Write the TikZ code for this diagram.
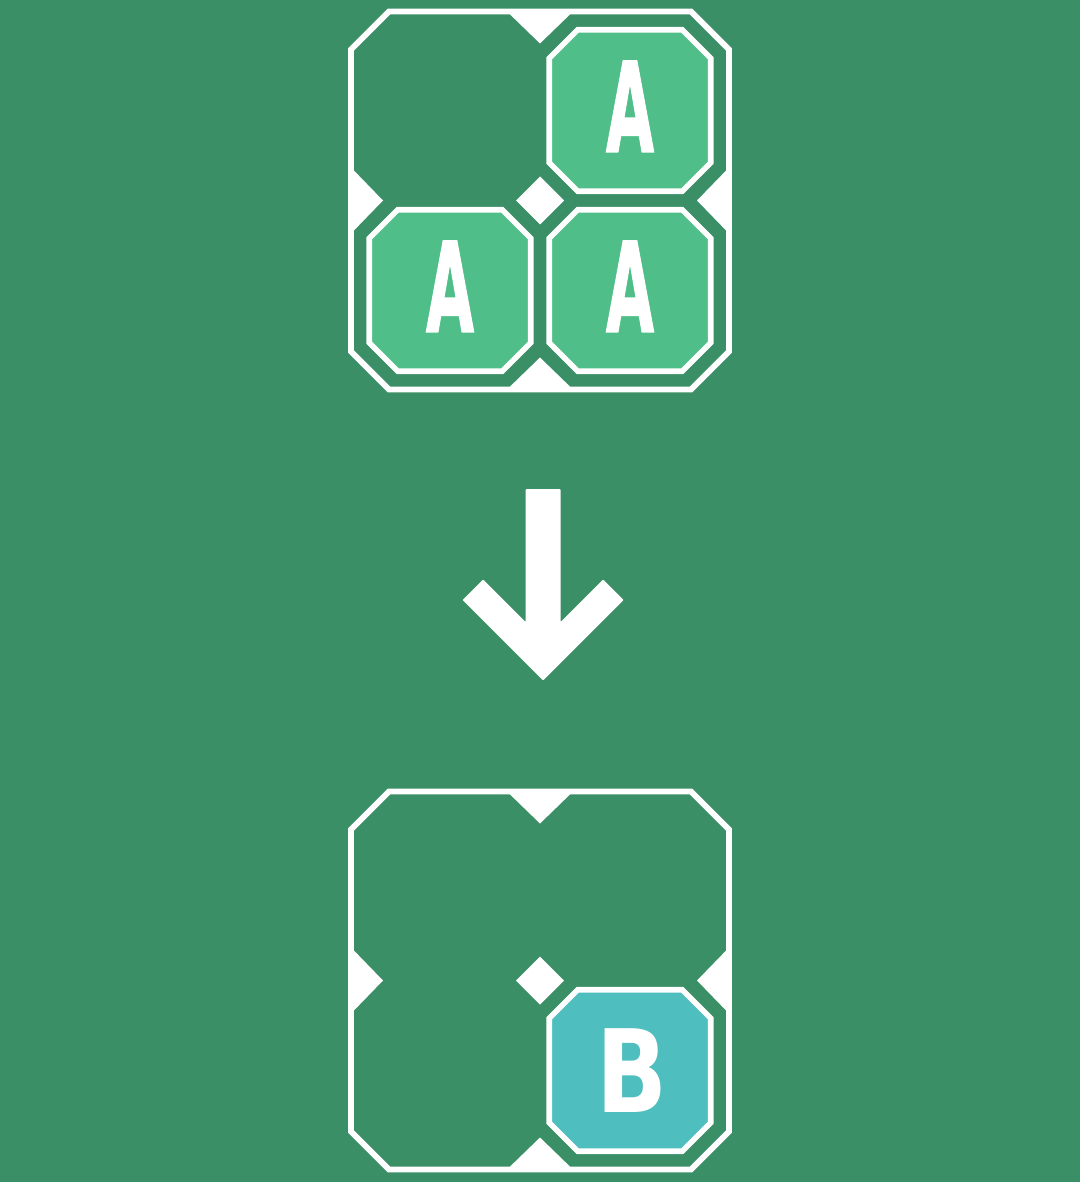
\documentclass[tikz,border=0pt]{standalone}
\usepackage{fontspec}
\usepackage{graphicx}
\newfontfamily\tilefont[FakeBold=1.6]{DejaVu Sans Bold}
\newfontfamily\tilefontb{DejaVu Sans Bold}
\definecolor{bgc}{HTML}{3A8F66}
\definecolor{tilea}{HTML}{4FBE88}
\definecolor{tileb}{HTML}{4FBEBE}
\newcommand{\myboard}[2]{%
  \draw[frameline] (#1-189,#2-151) -- (#1-151,#2-189) -- (#1+151,#2-189) -- (#1+189,#2-151)
    -- (#1+189,#2+151) -- (#1+151,#2+189) -- (#1-151,#2+189) -- (#1-189,#2+151) -- cycle;
  \fill[notch] (#1-33,#2-189) -- (#1+33,#2-189) -- (#1,#2-157) -- cycle;
  \fill[notch] (#1-33,#2+189) -- (#1+33,#2+189) -- (#1,#2+157) -- cycle;
  \fill[notch] (#1-189,#2-33) -- (#1-189,#2+33) -- (#1-157,#2) -- cycle;
  \fill[notch] (#1+189,#2-33) -- (#1+189,#2+33) -- (#1+157,#2) -- cycle;
  \fill[notch] (#1,#2-24) -- (#1+24,#2) -- (#1,#2+24) -- (#1-24,#2) -- cycle;
}
\newcommand{\mytile}[3]{%
  \filldraw[tileline,fill=#3] (#1-80.75,#2-52.25) -- (#1-52.25,#2-80.75) -- (#1+52.25,#2-80.75)
    -- (#1+80.75,#2-52.25) -- (#1+80.75,#2+52.25) -- (#1+52.25,#2+80.75) -- (#1-52.25,#2+80.75)
    -- (#1-80.75,#2+52.25) -- cycle;
}
\begin{document}
\begin{tikzpicture}[x=1pt,y=-1pt,
  frameline/.style={draw=white,line width=5.7pt,line join=miter},
  tileline/.style={draw=white,line width=5.6pt,line join=miter},
  notch/.style={fill=white},
  arrowshape/.style={fill=white},
  letter/.style={text=white,inner sep=0pt,outer sep=0pt,font=\tilefont\fontsize{124}{124}\selectfont},
  letterb/.style={text=white,inner sep=0pt,outer sep=0pt,font=\tilefontb\fontsize{115}{115}\selectfont}]
\fill[bgc] (0,0) rectangle (1080,1182);
\useasboundingbox (0,0) rectangle (1080,1182);
% top board
\myboard{540}{200.5}
\mytile{630}{110.5}{tilea}
\mytile{450}{290.5}{tilea}
\mytile{630}{290.5}{tilea}
\node[letter] (a1) at (630,106.4) {\scalebox{0.5}[1]{A}};
\node[letter] (a2) at (450,286.4) {\scalebox{0.5}[1]{A}};
\node[letter] (a3) at (630,286.4) {\scalebox{0.5}[1]{A}};
% arrow
\fill[arrowshape,rounded corners=1pt] (525.5,489) -- (560.5,489) -- (560.5,622) -- (603,579.5) -- (623.5,600)
  -- (543,680.5) -- (462.5,600) -- (483,579.5) -- (525.5,622) -- cycle;
% bottom board
\myboard{540}{980.5}
\mytile{630}{1070.5}{tileb}
\node[letterb] (b1) at (631.7,1071) {\scalebox{0.81}[1]{B}};
\end{tikzpicture}
\end{document}
